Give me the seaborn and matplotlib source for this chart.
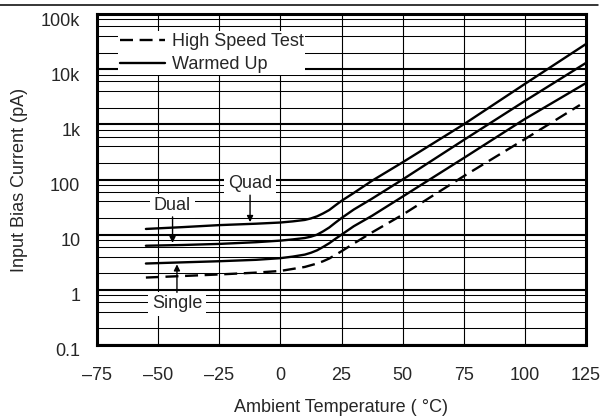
import matplotlib
matplotlib.use("Agg")
import matplotlib.pyplot as plt
import matplotlib.transforms as mtransforms
from matplotlib.lines import Line2D
import numpy as np
import pandas as pd
import seaborn as sns

# ---- data ----
temp_q = [-55, -40, -25, -10, 0, 5, 10, 12.5, 15, 17.5, 20, 22.5, 25, 30, 37.5, 50, 75, 100, 125]
quad = [12.7, 13.7, 14.9, 15.8, 16.6, 17.4, 18.5, 19.7, 21.5, 24.3, 28, 34, 41, 57, 95, 205, 1000, 5400, 28600]
dual = [6.3, 6.5, 6.8, 7.3, 7.8, 8.2, 8.7, 9.2, 10, 11.5, 13.5, 16.5, 20, 28.5, 45, 100, 520, 2650, 13000]
single = [3.0, 3.15, 3.3, 3.5, 3.75, 4.0, 4.35, 4.7, 5.2, 6.0, 7.0, 8.4, 10, 14.2, 22, 49, 245, 1250, 5600]
temp_hs = [-55, -40, -25, -10, 0, 10, 15, 17.5, 20, 22.5, 25, 30, 37.5, 50, 75, 100, 122.5]
high_speed = [1.67, 1.78, 1.9, 2.05, 2.2, 2.6, 3.0, 3.3, 3.7, 4.3, 5.0, 6.9, 11, 23, 115, 540, 2240]

x_ticks = [-75, -50, -25, 0, 25, 50, 75, 100, 125]
x_tick_labels = ["–75", "–50", "–25", "0", "25", "50", "75", "100", "125"]
y_ticks = [0.1, 1, 10, 100, 1000, 10000, 100000]
y_tick_labels = ["0.1", "1", "10", "100", "1k", "10k", "100k"]
legend_labels = ["High Speed Test", "Warmed Up"]

FS = 13

sns.set_style("white")
plt.rcParams["font.family"] = ["Liberation Sans", "DejaVu Sans"]
plt.rcParams["font.size"] = FS

fig = plt.figure(figsize=(6.03, 4.18), dpi=100)
ax = fig.add_axes([97 / 603, 1 - 345 / 418, (586 - 97) / 603, (345 - 14) / 418])

lw = 1.7
for vals in (quad, dual, single):
    df = pd.DataFrame({"T": temp_q, "I": vals})
    sns.lineplot(data=df, x="T", y="I", ax=ax, color="black", lw=lw, zorder=4)
df_hs = pd.DataFrame({"T": temp_hs, "I": high_speed})
sns.lineplot(data=df_hs, x="T", y="I", ax=ax, color="black", lw=lw, zorder=4)
ax.lines[-1].set_dashes((5.5, 2.8))

ax.set_yscale("log")
ax.set_xlim(-75, 125)
ax.set_ylim(0.1, 1e5)
ax.set_xticks(x_ticks)
ax.set_xticklabels(x_tick_labels)
ax.set_yticks(y_ticks)
ax.set_yticklabels(y_tick_labels)
minor = [m * d for d in [0.1, 1, 10, 100, 1000, 10000] for m in (2, 4, 6, 8)]
ax.set_yticks(minor, minor=True)
ax.yaxis.set_minor_formatter(matplotlib.ticker.NullFormatter())
ax.tick_params(which="both", length=0)
ax.tick_params(axis="y", pad=12, labelsize=FS)
ax.tick_params(axis="x", pad=16, labelsize=FS)
offset = mtransforms.ScaledTranslation(0, -5 / 100, fig.dpi_scale_trans)
for lab in ax.get_yticklabels():
    lab.set_transform(lab.get_transform() + offset)

ax.grid(which="major", axis="y", color="black", lw=1.5)
ax.grid(which="minor", axis="y", color="black", lw=0.75)
ax.grid(which="major", axis="x", color="black", lw=0.8)
ax.set_axisbelow(True)
for s in ax.spines.values():
    s.set_linewidth(2.2)
    s.set_color("black")
    s.set_zorder(6)

ax.set_xlabel("Ambient Temperature ( °C)", fontsize=FS, labelpad=11)
ax.set_ylabel("Input Bias Current (pA)", fontsize=FS, labelpad=9)

handles = [Line2D([], [], color="black", lw=lw, dashes=(5.5, 2.8)),
           Line2D([], [], color="black", lw=lw)]
leg = ax.legend(handles, legend_labels, loc="upper left",
                bbox_to_anchor=(0.043, 0.948), fontsize=FS, frameon=True,
                facecolor="white", edgecolor="none", framealpha=1,
                fancybox=False, handlelength=2.5, handletextpad=0.37,
                labelspacing=0.35, borderpad=0.1, borderaxespad=0)
leg.set_zorder(7)

box = dict(boxstyle="square,pad=0.2", fc="white", ec="none")
arrow = dict(arrowstyle="-|>", color="black", lw=1.0, mutation_scale=9,
             shrinkA=0, shrinkB=0)
ax.text(-12.4, 83, "Quad", ha="center", va="center", fontsize=FS, bbox=box, zorder=5)
ax.annotate("", xy=(-12.4, 16.9), xytext=(-12.4, 52), arrowprops=arrow, zorder=5)
ax.text(-44.1, 33.3, "Dual", ha="center", va="center", fontsize=FS, bbox=box, zorder=5)
ax.annotate("", xy=(-44.1, 7.1), xytext=(-44.1, 21), arrowprops=arrow, zorder=5)
ax.text(-42.3, 0.56, "Single", ha="center", va="center", fontsize=FS, bbox=box, zorder=5)
ax.annotate("", xy=(-42.3, 2.9), xytext=(-42.3, 0.9), arrowprops=arrow, zorder=5)

fig.add_artist(Line2D([0, 598 / 603], [1 - 5 / 418, 1 - 5 / 418], color="black",
                      lw=1.1, transform=fig.transFigure))

fig.savefig("out.png", dpi=100)
